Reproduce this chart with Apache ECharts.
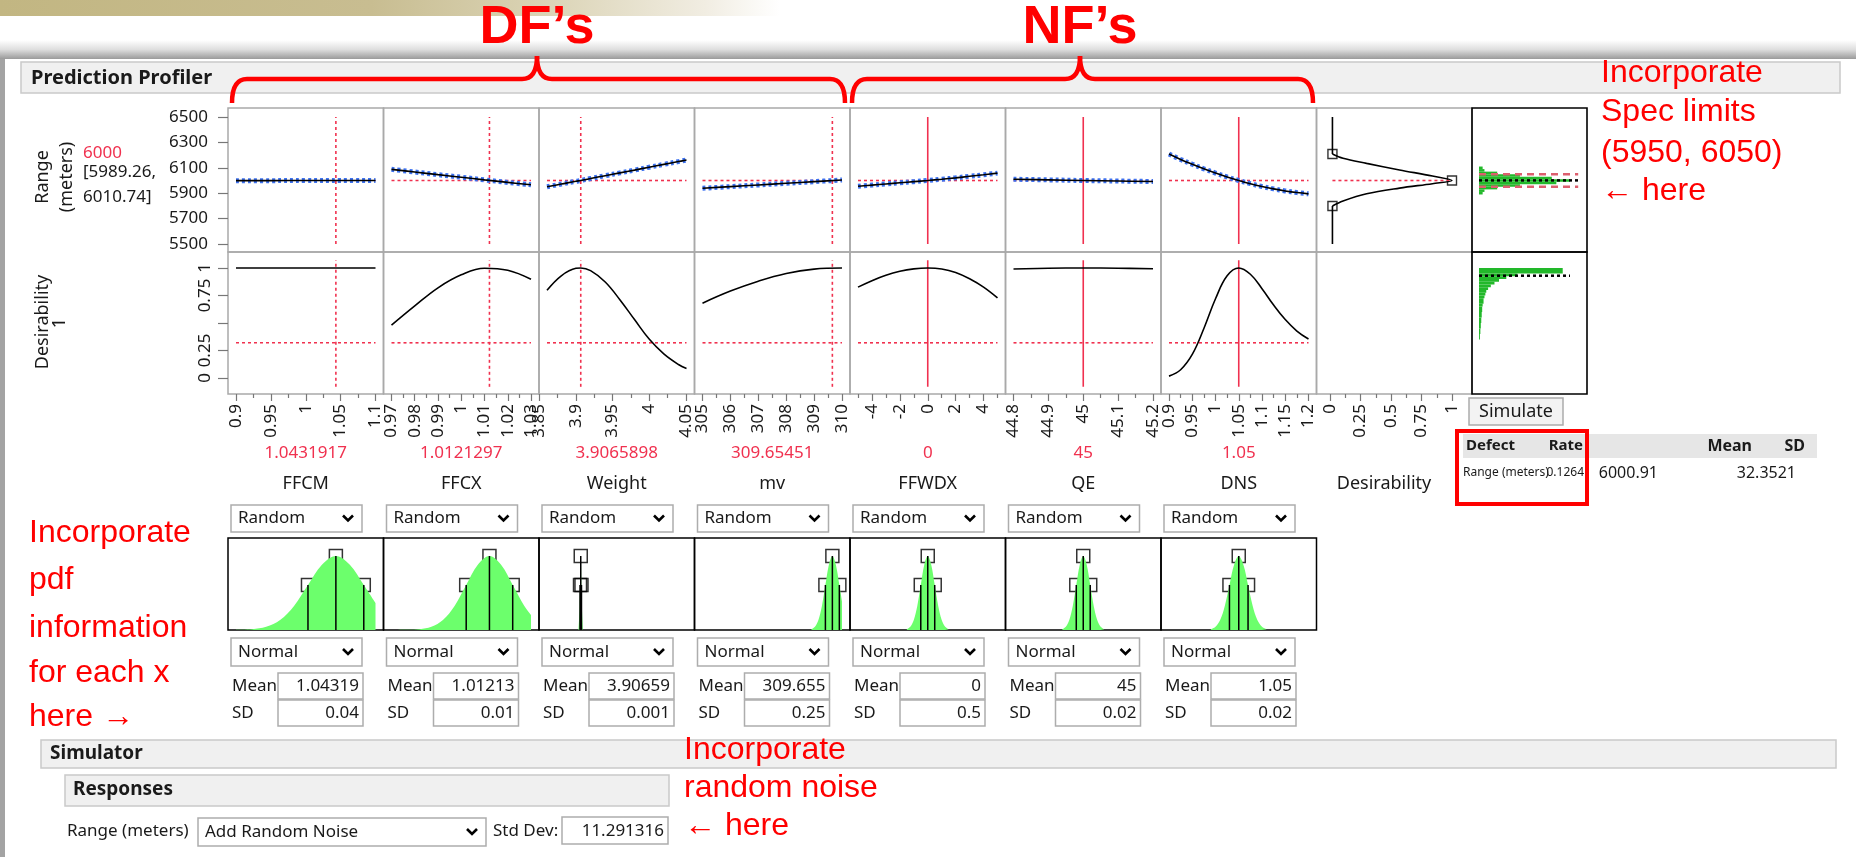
<!DOCTYPE html>
<html><head><meta charset="utf-8">
<script src="https://cdn.jsdelivr.net/npm/echarts@6/dist/echarts.min.js"></script>
<style>html,body{margin:0;padding:0;background:#fff;}#c{width:1856px;height:857px;}</style>
</head><body><div id="c"></div>
<script>
// ---------------- DATA ----------------
const factorNames = ['FFCM', 'FFCX', 'Weight', 'mv', 'FFWDX', 'QE', 'DNS'];
const factorLow = [0.9, 0.97, 3.8605, 305, -5, 44.8, 0.9];
const factorHigh = [1.1, 1.03, 4.051, 310, 5, 45.2, 1.2];
const currentValues = [1.0431917, 1.0121297, 3.9065898, 309.65451, 0, 45, 1.05];
const currentLabels = ['1.0431917', '1.0121297', '3.9065898', '309.65451', '0', '45', '1.05'];
const isNoiseFactor = [false, false, false, false, true, true, true];

const xTickValues = [
  [0.9, 0.95, 1, 1.05, 1.1],
  [0.97, 0.98, 0.99, 1, 1.01, 1.02, 1.03],
  [3.85, 3.9, 3.95, 4, 4.05],
  [305, 306, 307, 308, 309, 310],
  [-4, -2, 0, 2, 4],
  [44.8, 44.9, 45, 45.1, 45.2],
  [0.9, 0.95, 1, 1.05, 1.1, 1.15, 1.2]
];
const xMinorTicks = [
  [0.925, 0.975, 1.025, 1.075],
  [0.975, 0.985, 0.995, 1.005, 1.015, 1.025],
  [3.875, 3.925, 3.975, 4.025],
  [305.5, 306.5, 307.5, 308.5, 309.5],
  [-5, -3, -1, 1, 3, 5],
  [44.85, 44.95, 45.05, 45.15],
  [0.925, 0.975, 1.025, 1.075, 1.125, 1.175]
];
const rangeTicks = [5500, 5700, 5900, 6100, 6300, 6500];
const desirTicks = [0, 0.25, 0.5, 0.75, 1];
const desirTickLabels = [0, 0.25, 0.75, 1];
const desirMinorTicks = [0.125, 0.375, 0.625, 0.875];

const profileX = [
  [0.9, 0.95, 1.0, 1.05, 1.1],
  [0.97, 0.98, 0.99, 1.0, 1.01, 1.02, 1.03],
  [3.8605, 3.88, 3.9, 3.9066, 3.92, 3.94, 3.96, 3.98, 4.0, 4.02, 4.04, 4.051],
  [305, 306, 307, 308, 309, 310],
  [-5, -4, -3, -2, -1, 0, 1, 2, 3, 4, 5],
  [44.8, 44.9, 45, 45.1, 45.2],
  [0.9, 0.925, 0.95, 0.975, 1.0, 1.025, 1.05, 1.075, 1.1, 1.125, 1.15, 1.175, 1.2]
];
const rangeProfile = [
  [5999, 5999, 6000, 6000, 6000],
  [6088, 6067, 6046, 6026, 6005, 5985, 5966],
  [5951, 5972, 5994, 6000, 6016, 6038, 6060, 6082, 6105, 6127, 6149, 6161],
  [5939, 5952, 5965, 5978, 5991, 6004],
  [5955, 5964, 5973, 5982, 5991, 6000, 6010, 6021, 6033, 6045, 6058],
  [6010, 6005, 6000, 5996, 5992],
  [6208, 6166, 6128, 6092, 6059, 6028, 6000, 5975, 5953, 5934, 5918, 5905, 5895]
];
const desirProfile = [
  [1, 1, 1, 1, 1],
  [0.48, 0.655, 0.82, 0.938, 0.998, 0.979, 0.897],
  [0.797, 0.929, 0.997, 1, 0.976, 0.873, 0.712, 0.531, 0.354, 0.219, 0.123, 0.087],
  [0.68, 0.79, 0.88, 0.95, 0.99, 1.0],
  [0.826, 0.885, 0.934, 0.970, 0.992, 1, 0.991, 0.959, 0.902, 0.826, 0.728],
  [0.991, 0.998, 1, 0.998, 0.993],
  [0.017, 0.075, 0.214, 0.45, 0.72, 0.929, 1, 0.943, 0.812, 0.663, 0.531, 0.427, 0.354]
];
const currentRange = 6000;
const currentDesirLine = 0.32;
const rangeLabel = '6000';
const rangeIntervalLabels = ['[5989.26,', '6010.74]'];

// desirability function (x = desirability, y = Range)
const desFnD = [0.02, 0.107, 0.30, 0.57, 0.84, 1, 0.84, 0.57, 0.30, 0.107, 0.02];
const desFnR = [6209, 6175, 6135, 6083, 6035, 6000, 5975, 5940, 5895, 5838, 5799];
const desFnControlD = [0.02, 1, 0.02];
const desFnControlR = [6209, 6000, 5799];

// distributions
const distMeanLabels = ['1.04319', '1.01213', '3.90659', '309.655', '0', '45', '1.05'];
const distSDLabels = ['0.04', '0.01', '0.001', '0.25', '0.5', '0.02', '0.02'];
const pdfX = [
  [0.9, 0.92319, 0.94319, 0.96319, 0.98319, 1.00319, 1.02319, 1.04319, 1.06319, 1.08319, 1.1],
  [0.97, 0.97713, 0.98213, 0.98713, 0.99213, 0.99713, 1.00213, 1.00713, 1.01213, 1.01713, 1.02213, 1.02713, 1.03],
  [3.90359, 3.90509, 3.90659, 3.90809, 3.90959],
  [308.905, 309.03, 309.155, 309.28, 309.405, 309.53, 309.655, 309.78, 309.905, 310],
  [-1.5, -1.25, -1, -0.75, -0.5, -0.25, 0, 0.25, 0.5, 0.75, 1, 1.25, 1.5],
  [44.94, 44.95, 44.96, 44.97, 44.98, 44.99, 45, 45.01, 45.02, 45.03, 45.04, 45.05, 45.06],
  [0.99, 1.0, 1.01, 1.02, 1.03, 1.04, 1.05, 1.06, 1.07, 1.08, 1.09, 1.1, 1.11]
];
const pdfH = [
  [0.002, 0.011, 0.044, 0.135, 0.325, 0.607, 0.882, 1, 0.882, 0.607, 0.365],
  [0, 0.002, 0.011, 0.044, 0.135, 0.325, 0.607, 0.882, 1, 0.882, 0.607, 0.325, 0.204],
  [0.011, 0.325, 1, 0.325, 0.011],
  [0.011, 0.044, 0.135, 0.325, 0.607, 0.882, 1, 0.882, 0.607, 0.386],
  [0.011, 0.044, 0.135, 0.325, 0.607, 0.882, 1, 0.882, 0.607, 0.325, 0.135, 0.044, 0.011],
  [0.011, 0.044, 0.135, 0.325, 0.607, 0.882, 1, 0.882, 0.607, 0.325, 0.135, 0.044, 0.011],
  [0.011, 0.044, 0.135, 0.325, 0.607, 0.882, 1, 0.882, 0.607, 0.325, 0.135, 0.044, 0.011]
];
const pdfMarkerX = [
  [1.00319, 1.04319, 1.08319],
  [1.00213, 1.01213, 1.02213],
  [3.90559, 3.90659, 3.90759],
  [309.405, 309.655, 309.905],
  [-0.5, 0, 0.5],
  [44.98, 45, 45.02],
  [1.03, 1.05, 1.07]
];
const pdfMarkerH = [0.607, 1, 0.607];

// simulation
const specLimits = [5950, 6050];
const simRangeMean = 6000.91;
const simRangeEdges = [5890, 5910, 5930, 5950, 5970, 5990, 6010, 6030, 6050, 6070, 6090, 6110];
const simRangeCounts = [0.04, 0.06, 0.2, 0.45, 0.85, 1.0, 0.8, 0.45, 0.2, 0.06, 0.04];
const simDesirEdges = [0.35, 0.4, 0.45, 0.5, 0.55, 0.6, 0.65, 0.675, 0.7, 0.725, 0.75, 0.775, 0.8, 0.825, 0.85, 0.875, 0.9, 0.925, 0.95, 1.0];
const simDesirCounts = [0.01, 0.015, 0.02, 0.025, 0.03, 0.035, 0.04, 0.05, 0.05, 0.06, 0.07, 0.08, 0.1, 0.13, 0.17, 0.22, 0.3, 0.42, 0.92];
const simDesirMean = 0.93;
const defectTable = { response: 'Range (meters)', rate: '0.1264', mean: '6000.91', sd: '32.3521' };
const noiseStdDev = '11.291316';

// ---------------- LAYOUT ----------------
const FONT = '"Noto Sans", "Open Sans", sans-serif';
const ARIAL = '"Liberation Sans", Arial, sans-serif';
const RED = '#f0314f';
const COL0 = 228, COLW = 155.5;
const R1T = 108, R1H = 144, R2T = 252, R2H = 142;
const DT = 538, DH = 92;
const SIMX = 1472, SIMW = 115;
const RANGE_MIN = 5437, RANGE_MAX = 6571;
const DES_MIN = -0.1455, DES_MAX = 1.1455;

const grids = [], xAxes = [], yAxes = [], series = [], graphics = [];
const addGrid = g => grids.push(Object.assign({ containLabel: false }, g)) - 1;
const addX = a => xAxes.push(a) - 1;
const addY = a => yAxes.push(a) - 1;
const pairs = (xs, ys) => xs.map((x, k) => [x, ys[k]]);
const lbl = v => String(v);
const NOLINE = { show: false, onZero: false };

function rangeY(g, show) {
  return { gridIndex: g, type: 'value', min: RANGE_MIN, max: RANGE_MAX, show: show,
    axisLine: NOLINE, splitLine: { show: false },
    axisTick: { show: true, length: 10, customValues: rangeTicks, lineStyle: { color: '#777', width: 1.2 } },
    axisLabel: { customValues: rangeTicks, margin: 20, fontSize: 17, fontFamily: FONT, color: '#1a1a1a', formatter: lbl } };
}
function desirY(g, show) {
  return { gridIndex: g, type: 'value', min: DES_MIN, max: DES_MAX, show: show,
    axisLine: NOLINE, splitLine: { show: false },
    axisTick: { show: true, length: 10, customValues: desirTicks, lineStyle: { color: '#777', width: 1.2 } },
    axisLabel: { customValues: desirTickLabels, rotate: 90, margin: 14, fontSize: 17, fontFamily: FONT, color: '#1a1a1a', formatter: lbl } };
}
function hiddenX(g, min, max) {
  return addX({ gridIndex: g, type: 'value', min, max, show: false, axisLine: NOLINE });
}
function bottomX(g, min, max, ticks, minors) {
  const main = addX({ gridIndex: g, type: 'value', min, max, position: 'bottom',
    axisLine: NOLINE, splitLine: { show: false },
    axisTick: { show: true, length: 7, customValues: ticks, lineStyle: { color: '#777', width: 1.2 } },
    axisLabel: { customValues: ticks, rotate: 90, margin: 10, fontSize: 17, fontFamily: FONT, color: '#1a1a1a', formatter: lbl } });
  addX({ gridIndex: g, type: 'value', min, max, position: 'bottom',
    axisLine: NOLINE, splitLine: { show: false },
    axisTick: { show: true, length: 4, customValues: minors, lineStyle: { color: '#777', width: 1.2 } },
    axisLabel: { show: false } });
  return main;
}
const lineS = (xi, yi, data, style, extra) => Object.assign({ type: 'line', xAxisIndex: xi, yAxisIndex: yi, data,
  symbol: 'none', silent: true, lineStyle: style }, extra || {});

for (let i = 0; i < 7; i++) {
  const x0 = COL0 + i * COLW;
  const pad = (factorHigh[i] - factorLow[i]) * 8 / (COLW - 16);
  const xmin = factorLow[i] - pad, xmax = factorHigh[i] + pad;
  const redStyle = { color: RED, width: 1.6, type: isNoiseFactor[i] ? 'solid' : [3, 3] };
  const redDot = { color: RED, width: 1.6, type: [3, 3] };

  const gT = addGrid({ left: x0, top: R1T, width: COLW, height: R1H, show: true, borderColor: '#a9a9a9', borderWidth: 1.5 });
  const xT = hiddenX(gT, xmin, xmax);
  const yT = addY(rangeY(gT, i === 0));
  series.push(lineS(xT, yT, [[factorLow[i], currentRange], [factorHigh[i], currentRange]], redDot));
  series.push(lineS(xT, yT, [[currentValues[i], 5500], [currentValues[i], 6500]], redStyle));
  series.push(lineS(xT, yT, pairs(profileX[i], rangeProfile[i]), { color: '#3d72f0', width: 5, type: [3, 3] }, { smooth: 0.4 }));
  series.push(lineS(xT, yT, pairs(profileX[i], rangeProfile[i]), { color: '#000', width: 1.6 }, { smooth: 0.4 }));

  const gB = addGrid({ left: x0, top: R2T, width: COLW, height: R2H, show: true, borderColor: '#a9a9a9', borderWidth: 1.5 });
  const xB = bottomX(gB, xmin, xmax, xTickValues[i], xMinorTicks[i]);
  const yB = addY(desirY(gB, i === 0));
  series.push(lineS(xB, yB, [[factorLow[i], currentDesirLine], [factorHigh[i], currentDesirLine]], redDot));
  series.push(lineS(xB, yB, [[currentValues[i], -0.08], [currentValues[i], 1.07]], redStyle));
  series.push(lineS(xB, yB, pairs(profileX[i], desirProfile[i]), { color: '#000', width: 1.6 }, { smooth: 0.4 }));

  const gD = addGrid({ left: x0, top: DT, width: COLW, height: DH, show: true, borderColor: '#000', borderWidth: 1.5 });
  const xD = hiddenX(gD, xmin, xmax);
  const yD = addY({ gridIndex: gD, type: 'value', min: 0, max: 1.243, show: false, axisLine: NOLINE });
  series.push(lineS(xD, yD, pairs(pdfX[i], pdfH[i]), { opacity: 0, width: 0 },
    { smooth: 0.35, areaStyle: { color: '#6cff6c', opacity: 1 } }));
  pdfMarkerX[i].forEach((x, k) => {
    series.push(lineS(xD, yD, [[x, 0], [x, pdfMarkerH[k]]], { color: '#000', width: 1.5 }));
  });
  series.push({ type: 'scatter', xAxisIndex: xD, yAxisIndex: yD, silent: true, symbol: 'rect', symbolSize: 13,
    data: pairs(pdfMarkerX[i], pdfMarkerH),
    itemStyle: { color: 'rgba(0,0,0,0)', borderColor: '#000', borderWidth: 1.5 } });
}

// desirability column
{
  const x0 = COL0 + 7 * COLW;
  const dmin = -13.5 / 122, dmax = (COLW - 13.5) / 122;
  const gT = addGrid({ left: x0, top: R1T, width: COLW, height: R1H, show: true, borderColor: '#a9a9a9', borderWidth: 1.5 });
  const xT = hiddenX(gT, dmin, dmax);
  const yT = addY(rangeY(gT, false));
  const n = desFnD.length;
  series.push(lineS(xT, yT, [[desFnD[0], currentRange], [1, currentRange]], { color: RED, width: 1.6, type: [3, 3] }));
  series.push(lineS(xT, yT, [[desFnD[0], 6500], [desFnD[0], desFnR[0]]], { color: '#000', width: 1.6 }));
  series.push(lineS(xT, yT, [[desFnD[n - 1], desFnR[n - 1]], [desFnD[n - 1], 5500]], { color: '#000', width: 1.6 }));
  series.push(lineS(xT, yT, pairs(desFnD, desFnR), { color: '#000', width: 1.6 }, { smooth: 0.35 }));
  series.push({ type: 'scatter', xAxisIndex: xT, yAxisIndex: yT, silent: true, symbol: 'rect', symbolSize: 9,
    data: pairs(desFnControlD, desFnControlR),
    itemStyle: { color: 'rgba(0,0,0,0)', borderColor: '#000', borderWidth: 1.4 } });
  const gB = addGrid({ left: x0, top: R2T, width: COLW, height: R2H, show: true, borderColor: '#a9a9a9', borderWidth: 1.5 });
  const xB = bottomX(gB, dmin, dmax, desirTicks, desirMinorTicks);
  const yB = addY(desirY(gB, false));
  series.push(lineS(xB, yB, [], { color: '#000' }));
}

// simulate column
function histRender(params, api) {
  const p0 = api.coord([0, api.value(1)]);
  const p1 = api.coord([api.value(2), api.value(0)]);
  return { type: 'rect', shape: { x: p0[0], y: p0[1], width: p1[0] - p0[0], height: p1[1] - p0[1] },
    style: { fill: '#22b82a' } };
}
{
  const smin = -7 / 91, smax = (SIMW - 7) / 91;
  const gT = addGrid({ left: SIMX, top: R1T, width: SIMW, height: R1H, show: true, borderColor: '#000', borderWidth: 1.6 });
  const xT = hiddenX(gT, smin, smax);
  const yT = addY(rangeY(gT, false));
  series.push({ type: 'custom', xAxisIndex: xT, yAxisIndex: yT, silent: true, renderItem: histRender,
    data: simRangeCounts.map((c, k) => [simRangeEdges[k], simRangeEdges[k + 1], c]) });
  specLimits.forEach(s => series.push(lineS(xT, yT, [[0, s], [1.09, s]], { color: '#dc5f6e', width: 2.5, type: [7, 5] })));
  series.push(lineS(xT, yT, [[0, simRangeMean], [1.09, simRangeMean]], { color: '#000', width: 2.5, type: [3, 3] }));

  const gB = addGrid({ left: SIMX, top: R2T, width: SIMW, height: R2H, show: true, borderColor: '#000', borderWidth: 1.6 });
  const xB = hiddenX(gB, smin, smax);
  const yB = addY(desirY(gB, false));
  series.push({ type: 'custom', xAxisIndex: xB, yAxisIndex: yB, silent: true, renderItem: histRender,
    data: simDesirCounts.map((c, k) => [simDesirEdges[k], simDesirEdges[k + 1], c]) });
  series.push(lineS(xB, yB, [[0, simDesirMean], [1.0, simDesirMean]], { color: '#000', width: 2.5, type: [3, 3] }));
}

// ---------------- GRAPHICS (UI chrome and text) ----------------
function txt(x, y, s, o) {
  o = o || {};
  const align = o.align || 'left', va = o.va || 'middle';
  return { type: 'text', x, y, rotation: o.rot || 0, z: o.z || 20, silent: true,
    style: { text: s, fill: o.color || '#1a1a1a', font: (o.weight || 'normal') + ' ' + (o.size || 17) + 'px ' + (o.family || FONT),
      textAlign: align, textVerticalAlign: va } };
}
function box(x, y, w, h, fill, stroke, lw, z) {
  return { type: 'rect', z: z || 5, silent: true, shape: { x, y, width: w, height: h },
    style: { fill: fill || 'rgba(0,0,0,0)', stroke: stroke || 'rgba(0,0,0,0)', lineWidth: lw || 1 } };
}
function chevron(cx, cy) {
  return { type: 'polyline', z: 21, silent: true, shape: { points: [[cx - 5, cy - 3], [cx, cy + 2], [cx + 5, cy - 3]] },
    style: { stroke: '#000', lineWidth: 2.6, fill: null } };
}
function dropdown(x, y, w, h, s) {
  graphics.push(box(x, y, w, h, '#fff', '#adadad', 1.5));
  graphics.push(txt(x + 7, y + h / 2, s, { size: 17 }));
  graphics.push(chevron(x + w - 14, y + h / 2));
}

graphics.push({ type: 'rect', z: 1, silent: true, shape: { x: 0, y: 0, width: 1856, height: 16 },
  style: { fill: { type: 'linear', x: 0, y: 0, x2: 1, y2: 0, colorStops: [
    { offset: 0, color: '#c2b682' }, { offset: 0.2, color: '#c8bd91' }, { offset: 0.3, color: '#dcd5b8' },
    { offset: 0.38, color: '#f1ede2' }, { offset: 0.42, color: '#ffffff' }, { offset: 1, color: '#ffffff' }] } } });
graphics.push({ type: 'rect', z: 1, silent: true, shape: { x: 0, y: 40, width: 1856, height: 19 },
  style: { fill: { type: 'linear', x: 0, y: 0, x2: 0, y2: 1, colorStops: [
    { offset: 0, color: '#ffffff' }, { offset: 0.5, color: '#dedede' }, { offset: 1, color: '#9a9a9a' }] } } });
graphics.push(box(0, 59, 5, 798, '#a3a3a3', null, 0, 1));
graphics.push(box(21, 62, 1819, 31, '#f0f0f0', '#c9c9c9', 1.5, 2));
graphics.push(txt(31, 78, 'Prediction Profiler', { weight: 'bold', size: 20 }));

graphics.push(txt(43, 177, 'Range', { rot: Math.PI / 2, align: 'center', size: 18 }));
graphics.push(txt(67, 177, '(meters)', { rot: Math.PI / 2, align: 'center', size: 18 }));
graphics.push(txt(83, 153, rangeLabel, { color: RED, size: 17 }));
graphics.push(txt(83, 172, rangeIntervalLabels[0], { size: 17 }));
graphics.push(txt(83, 197, rangeIntervalLabels[1], { size: 17 }));
graphics.push(txt(43, 322, 'Desirability', { rot: Math.PI / 2, align: 'center', size: 18 }));
graphics.push(txt(60, 323, '1', { rot: Math.PI / 2, align: 'center', size: 18 }));

for (let i = 0; i < 7; i++) {
  const x0 = COL0 + i * COLW, cx = x0 + COLW / 2;
  graphics.push(txt(cx, 453, currentLabels[i], { align: 'center', color: RED, size: 17 }));
  graphics.push(txt(cx, 484, factorNames[i], { align: 'center', size: 18 }));
  dropdown(x0 + 3, 505, 131, 27, 'Random');
  dropdown(x0 + 3, 638, 131, 28, 'Normal');
  graphics.push(txt(x0 + 4, 686, 'Mean', { size: 17 }));
  graphics.push(box(x0 + 50, 673, 85, 26, '#fff', '#adadad', 1.5));
  graphics.push(txt(x0 + 131, 686, distMeanLabels[i], { align: 'right', size: 17 }));
  graphics.push(txt(x0 + 4, 713, 'SD', { size: 17 }));
  graphics.push(box(x0 + 50, 700, 85, 26, '#fff', '#adadad', 1.5));
  graphics.push(txt(x0 + 131, 713, distSDLabels[i], { align: 'right', size: 17 }));
}
graphics.push(txt(1384, 484, 'Desirability', { align: 'center', size: 18 }));

graphics.push(box(1469, 398, 94, 27, '#f3f3f3', '#acacac', 1.5));
graphics.push(txt(1516, 412, 'Simulate', { align: 'center', size: 18 }));
graphics.push(box(1463, 434, 354, 24, '#e6e6e6', null, 0, 3));
graphics.push(txt(1466, 446, 'Defect', { weight: 'bold', size: 15 }));
graphics.push(txt(1583, 446, 'Rate', { weight: 'bold', size: 15, align: 'right' }));
graphics.push(txt(1752, 446, 'Mean', { weight: 'bold', size: 16, align: 'right' }));
graphics.push(txt(1805, 446, 'SD', { weight: 'bold', size: 16, align: 'right' }));
graphics.push(txt(1463, 473, defectTable.response, { size: 12 }));
graphics.push(txt(1584, 473, defectTable.rate, { size: 12, align: 'right' }));
graphics.push(txt(1658, 473, defectTable.mean, { size: 16, align: 'right' }));
graphics.push(txt(1796, 473, defectTable.sd, { size: 16, align: 'right' }));
graphics.push(box(1457, 431, 130, 73, null, '#ff0000', 4, 50));

graphics.push(box(41, 740, 1795, 28, '#f0f0f0', '#c9c9c9', 1.5, 2));
graphics.push(txt(50, 754, 'Simulator', { weight: 'bold', size: 19 }));
graphics.push(box(65, 775, 604, 31, '#f0f0f0', '#c9c9c9', 1.5, 2));
graphics.push(txt(73, 790, 'Responses', { weight: 'bold', size: 19 }));
graphics.push(txt(67, 831, 'Range (meters)', { size: 17 }));
dropdown(198, 818, 288, 28, 'Add Random Noise');
graphics.push(txt(493, 831, 'Std Dev:', { size: 17 }));
graphics.push(box(562, 817, 106, 27, '#fff', '#adadad', 1.5));
graphics.push(txt(664, 831, noiseStdDev, { size: 17, align: 'right' }));

const redT = (x, y, s) => graphics.push(txt(x, y, s, { color: '#ff0000', size: 32, family: ARIAL, z: 60 }));
['Incorporate', 'Spec limits', '(5950, 6050)', '\u2190 here'].forEach((s, k) => redT(1601, [73, 112, 153, 191][k], s));
['Incorporate', 'pdf', 'information', 'for each x', 'here \u2192'].forEach((s, k) => redT(29, [533, 580, 628, 673, 717][k], s));
['Incorporate', 'random noise', '\u2190 here'].forEach((s, k) => redT(684, [750, 788, 826][k], s));
graphics.push(txt(537, 28, 'DF\u2019s', { color: '#ff0000', size: 54, weight: 'bold', family: ARIAL, align: 'center', z: 60 }));
graphics.push(txt(1080, 28, 'NF\u2019s', { color: '#ff0000', size: 54, weight: 'bold', family: ARIAL, align: 'center', z: 60 }));

function brace(a, m, b) {
  const st = { stroke: '#ff0000', lineWidth: 4.5, fill: null };
  const y = 79, yEnd = 103, yTip = 56, r = 15;
  const bz = (x1, y1, x2, y2, cx, cy) => ({ type: 'bezierCurve', z: 60, silent: true,
    shape: { x1, y1, x2, y2, cpx1: cx, cpy1: cy }, style: st });
  const ln = (x1, y1, x2, y2) => ({ type: 'line', z: 60, silent: true, shape: { x1, y1, x2, y2 }, style: st });
  graphics.push(bz(a, yEnd, a + r, y, a, y));
  graphics.push(ln(a + r, y, m - r, y));
  graphics.push(bz(m - r, y, m, yTip, m, y));
  graphics.push(bz(m, yTip, m + r, y, m, y));
  graphics.push(ln(m + r, y, b - r, y));
  graphics.push(bz(b - r, y, b, yEnd, b, y));
}
brace(232, 537, 845);
brace(852, 1080, 1313);

const chart = echarts.init(document.getElementById('c'), null, { renderer: 'canvas', width: 1856, height: 857 });
chart.setOption({
  animation: false,
  backgroundColor: '#ffffff',
  textStyle: { fontFamily: FONT },
  grid: grids, xAxis: xAxes, yAxis: yAxes, series: series,
  graphic: { elements: graphics }
});
</script>
</body></html>
